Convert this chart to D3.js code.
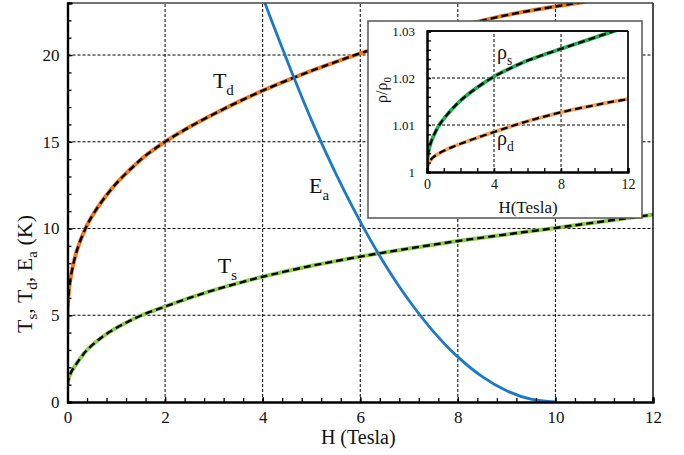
<!DOCTYPE html>
<html>
<head>
<meta charset="utf-8">
<script src="https://cdn.jsdelivr.net/npm/d3@7"></script>
<style>
  body { margin: 0; background: #fff; }
  svg text { font-family: "Liberation Serif", "Times New Roman", Times, "DejaVu Serif", serif; fill: #111; }
</style>
</head>
<body>
<svg id="chart"></svg>
<script>
var svg_width = 684;
var svg_height = 455;
var serif = '"Liberation Serif", "Times New Roman", Times, "DejaVu Serif", serif';

// main panel data
var xTicks = [0, 2, 4, 6, 8, 10, 12];
var yTicks = [0, 5, 10, 15, 20];

var tdH = [0, 0.005, 0.02, 0.05, 0.1, 0.2, 0.36, 0.5, 0.74, 1.0, 1.32, 1.6, 2, 2.5, 3, 3.5, 4, 4.64, 5.3, 6, 7, 8, 9, 10, 10.45, 12];
var tdT = [4.2, 5.3, 6.1, 6.9, 7.7, 8.8, 9.95, 10.7, 11.7, 12.6, 13.5, 14.2, 15.0, 15.85, 16.6, 17.3, 17.95, 18.7, 19.4, 20.1, 20.95, 21.65, 22.3, 22.8, 23.0, 23.7];

var tsH = [0, 0.03, 0.08, 0.16, 0.27, 0.4, 0.6, 0.84, 1.15, 1.52, 2, 2.5, 3, 3.5, 4, 5, 6, 7, 8, 9, 10, 11, 12];
var tsT = [0.98, 1.4, 1.75, 2.1, 2.55, 3.0, 3.5, 4.0, 4.5, 5.0, 5.5, 6.0, 6.45, 6.85, 7.22, 7.85, 8.38, 8.85, 9.28, 9.66, 10.03, 10.42, 10.8];

var eaH = [3.9, 4.06, 4.43, 4.64, 5, 5.5, 6, 6.5, 7, 7.5, 8, 8.5, 9, 9.5, 10];
var eaE = [24.2, 22.9, 20.2, 18.7, 16.25, 13.16, 10.4, 7.96, 5.85, 4.06, 2.6, 1.46, 0.65, 0.16, 0];

// inset data
var inXTicks = [0, 4, 8, 12];
var inYTicks = [1, 1.01, 1.02, 1.03];

var rsH = [0, 0.05, 0.1, 0.2, 0.3, 0.5, 0.75, 1, 1.5, 2, 3, 4, 5, 6, 7, 8, 9, 10, 11.1, 12];
var rsR = [1.001, 1.0034, 1.0045, 1.0059, 1.0069, 1.0085, 1.0101, 1.0113, 1.0134, 1.0152, 1.018, 1.0203, 1.0221, 1.0237, 1.025, 1.0262, 1.0274, 1.0286, 1.0299, 1.0309];

var rdH = [0, 0.05, 0.1, 0.25, 0.5, 1, 1.5, 2, 3, 4, 5, 6, 7, 8, 9, 10, 11, 12];
var rdR = [1.0004, 1.0014, 1.0019, 1.0027, 1.0035, 1.0045, 1.0053, 1.006, 1.0073, 1.0085, 1.0097, 1.0108, 1.0118, 1.0127, 1.0135, 1.0142, 1.0149, 1.0155];

var svg = d3.select('#chart')
  .attr('width', svg_width)
  .attr('height', svg_height)
  .attr('font-family', serif);

var xScale = d3.scaleLinear().domain([0, 12]).range([67.5, 653]);
var yScale = d3.scaleLinear().domain([0, 23]).range([402, 3]);

svg.append('clipPath').attr('id', 'mainclip')
  .append('rect')
  .attr('x', xScale(0)).attr('y', yScale(23))
  .attr('width', xScale(12) - xScale(0)).attr('height', yScale(0) - yScale(23));

function range_step(a, b, s) {
  var out = [];
  for (var v = a; v <= b + 1e-9; v += s) out.push(+v.toFixed(4));
  return out;
}

function draw_grid(g, xs, ys, xv, yv) {
  g.selectAll('line.gx').data(xv).enter().append('line')
    .attr('x1', function(d) { return xs(d); }).attr('x2', function(d) { return xs(d); })
    .attr('y1', ys.range()[0]).attr('y2', ys.range()[1])
    .attr('stroke', '#000').attr('stroke-width', 1).attr('stroke-dasharray', '3,2');
  g.selectAll('line.gy').data(yv).enter().append('line')
    .attr('y1', function(d) { return ys(d); }).attr('y2', function(d) { return ys(d); })
    .attr('x1', xs.range()[0]).attr('x2', xs.range()[1])
    .attr('stroke', '#000').attr('stroke-width', 1).attr('stroke-dasharray', '3,2');
}

function draw_curve(g, xs, ys, hs, vs, colour, w, dashed, clip) {
  var pts = hs.map(function(h, i) { return [h, vs[i]]; });
  var line = d3.line()
    .x(function(d) { return xs(d[0]); })
    .y(function(d) { return ys(d[1]); })
    .curve(d3.curveCatmullRom.alpha(0.5));
  var cg = g.append('g').attr('clip-path', 'url(#' + clip + ')');
  cg.append('path').datum(pts).attr('d', line)
    .attr('fill', 'none').attr('stroke', colour).attr('stroke-width', w)
    .attr('stroke-linecap', 'round');
  if (dashed) {
    cg.append('path').datum(pts).attr('d', line)
      .attr('fill', 'none').attr('stroke', '#000').attr('stroke-width', w * 0.6)
      .attr('stroke-dasharray', '7,4');
  }
}

// sub-scripted label: base letter + subscript
function sub_label(g, x, y, base, sub, size) {
  var t = g.append('text').attr('x', x).attr('y', y).attr('font-size', size);
  t.append('tspan').text(base);
  t.append('tspan').attr('dy', size * 0.3).attr('font-size', size * 0.68).text(sub);
  return t;
}

/************ main panel ************/
var main = svg.append('g');
draw_grid(main, xScale, yScale, [2, 4, 6, 8, 10], [5, 10, 15, 20]);

draw_curve(main, xScale, yScale, tdH, tdT, '#ef7b22', 4, true, 'mainclip');
draw_curve(main, xScale, yScale, tsH, tsT, '#8dcf4f', 4, true, 'mainclip');
draw_curve(main, xScale, yScale, eaH, eaE, '#1b79c6', 2.8, false, 'mainclip');

// frame top / right
main.append('line').attr('x1', xScale(0)).attr('x2', xScale(12))
  .attr('y1', yScale(23)).attr('y2', yScale(23)).attr('stroke', '#444').attr('stroke-width', 1.5);
main.append('line').attr('x1', xScale(12)).attr('x2', xScale(12))
  .attr('y1', yScale(23)).attr('y2', yScale(0)).attr('stroke', '#111').attr('stroke-width', 1.5);

// axes
var xAxisMinor = d3.axisBottom(xScale).tickValues(range_step(0, 12, 0.4)).tickSize(-4).tickFormat('');
var xAxis = d3.axisBottom(xScale).tickValues(xTicks).tickSize(-5).tickPadding(10).tickFormat(d3.format('d'));
var yAxisMinor = d3.axisLeft(yScale).tickValues(range_step(0, 23, 1)).tickSize(-4).tickFormat('');
var yAxis = d3.axisLeft(yScale).tickValues(yTicks).tickSize(-5).tickPadding(8).tickFormat(d3.format('d'));

function style_axis(g, fs, w) {
  g.attr('font-family', serif);
  g.select('.domain').attr('stroke', '#000').attr('stroke-width', w);
  g.selectAll('.tick line').attr('stroke', '#000').attr('stroke-width', 1.3);
  g.selectAll('.tick text').attr('font-size', fs).attr('fill', '#111');
}

var gx0 = main.append('g').attr('transform', 'translate(0,' + yScale(0) + ')').call(xAxisMinor);
style_axis(gx0, 17, 2);
var gx = main.append('g').attr('transform', 'translate(0,' + yScale(0) + ')').call(xAxis);
style_axis(gx, 17, 2);
var gy0 = main.append('g').attr('transform', 'translate(' + xScale(0) + ',0)').call(yAxisMinor);
style_axis(gy0, 17, 2.2);
var gy = main.append('g').attr('transform', 'translate(' + xScale(0) + ',0)').call(yAxis);
style_axis(gy, 17, 2.2);
gx.selectAll('.tick text').attr('dy', '0.62em');

// axis titles
main.append('text').attr('x', (xScale(0) + xScale(12)) / 2 - 2).attr('y', 444)
  .attr('text-anchor', 'middle').attr('font-size', 20).text('H (Tesla)');

var yt = main.append('text').attr('transform', 'translate(32,333) rotate(-90)')
  .attr('text-anchor', 'start').attr('font-size', 22);
yt.append('tspan').text('T');
yt.append('tspan').attr('dy', 5).attr('font-size', 15).text('s');
yt.append('tspan').attr('dy', -5).text(', T');
yt.append('tspan').attr('dy', 5).attr('font-size', 15).text('d');
yt.append('tspan').attr('dy', -5).text(', E');
yt.append('tspan').attr('dy', 5).attr('font-size', 15).text('a');
yt.append('tspan').attr('dy', -5).text(' (K)');

// curve labels
sub_label(main, xScale(2.98), yScale(18.1), 'T', 'd', 22);
sub_label(main, xScale(4.95), yScale(12.05), 'E', 'a', 22);
sub_label(main, xScale(3.08), yScale(7.43), 'T', 's', 22);

/************ inset ************/
var ins = svg.append('g');
ins.append('rect').attr('x', 368).attr('y', 21).attr('width', 642 - 368).attr('height', 218 - 21)
  .attr('fill', '#fff').attr('stroke', '#555').attr('stroke-width', 1.5);

var ixScale = d3.scaleLinear().domain([0, 12]).range([427, 628]);
var iyScale = d3.scaleLinear().domain([1, 1.03]).range([172, 31]);

svg.append('clipPath').attr('id', 'insclip')
  .append('rect')
  .attr('x', ixScale(0)).attr('y', iyScale(1.03))
  .attr('width', ixScale(12) - ixScale(0)).attr('height', iyScale(1) - iyScale(1.03));

draw_grid(ins, ixScale, iyScale, [4, 8], [1.01, 1.02]);
draw_curve(ins, ixScale, iyScale, rsH, rsR, '#1fb352', 3.8, true, 'insclip');
draw_curve(ins, ixScale, iyScale, rdH, rdR, '#f4a262', 3.8, true, 'insclip');

ins.append('line').attr('x1', ixScale(0)).attr('x2', ixScale(12))
  .attr('y1', iyScale(1.03)).attr('y2', iyScale(1.03)).attr('stroke', '#111').attr('stroke-width', 1.8);
ins.append('line').attr('x1', ixScale(12)).attr('x2', ixScale(12))
  .attr('y1', iyScale(1.03)).attr('y2', iyScale(1)).attr('stroke', '#111').attr('stroke-width', 1.8);

var ixMinor = d3.axisBottom(ixScale).tickValues(range_step(0, 12, 1)).tickSize(-4).tickFormat('');
var ixAxis = d3.axisBottom(ixScale).tickValues(inXTicks).tickSize(-4).tickPadding(8).tickFormat(d3.format('d'));
var iyMinor = d3.axisLeft(iyScale).tickValues(range_step(1, 1.03, 0.002)).tickSize(-4).tickFormat('');
var iyAxis = d3.axisLeft(iyScale).tickValues(inYTicks).tickSize(-4).tickPadding(12)
  .tickFormat(function(d) { return d === 1 ? '1' : d3.format('.2f')(d); });

var a1 = ins.append('g').attr('transform', 'translate(0,' + iyScale(1) + ')').call(ixMinor);
style_axis(a1, 13, 2);
var a2 = ins.append('g').attr('transform', 'translate(0,' + iyScale(1) + ')').call(ixAxis);
style_axis(a2, 14, 2);
a2.selectAll('.tick text').attr('dy', '0.62em');
var a3 = ins.append('g').attr('transform', 'translate(' + ixScale(0) + ',0)').call(iyMinor);
style_axis(a3, 13, 2);
var a4 = ins.append('g').attr('transform', 'translate(' + ixScale(0) + ',0)').call(iyAxis);
style_axis(a4, 13, 2);

ins.append('text').attr('x', 528).attr('y', 213).attr('text-anchor', 'middle')
  .attr('font-size', 17).text('H(Tesla)');

var rt = ins.append('text').attr('transform', 'translate(387,90) rotate(-90)')
  .attr('text-anchor', 'middle').attr('font-size', 16);
rt.append('tspan').text('ρ/ρ');
rt.append('tspan').attr('dy', 4).attr('font-size', 11).text('0');

sub_label(ins, ixScale(4.18), iyScale(1.024), 'ρ', 's', 20);
sub_label(ins, ixScale(4.18), iyScale(1.0057), 'ρ', 'd', 20);
</script>
</body>
</html>
